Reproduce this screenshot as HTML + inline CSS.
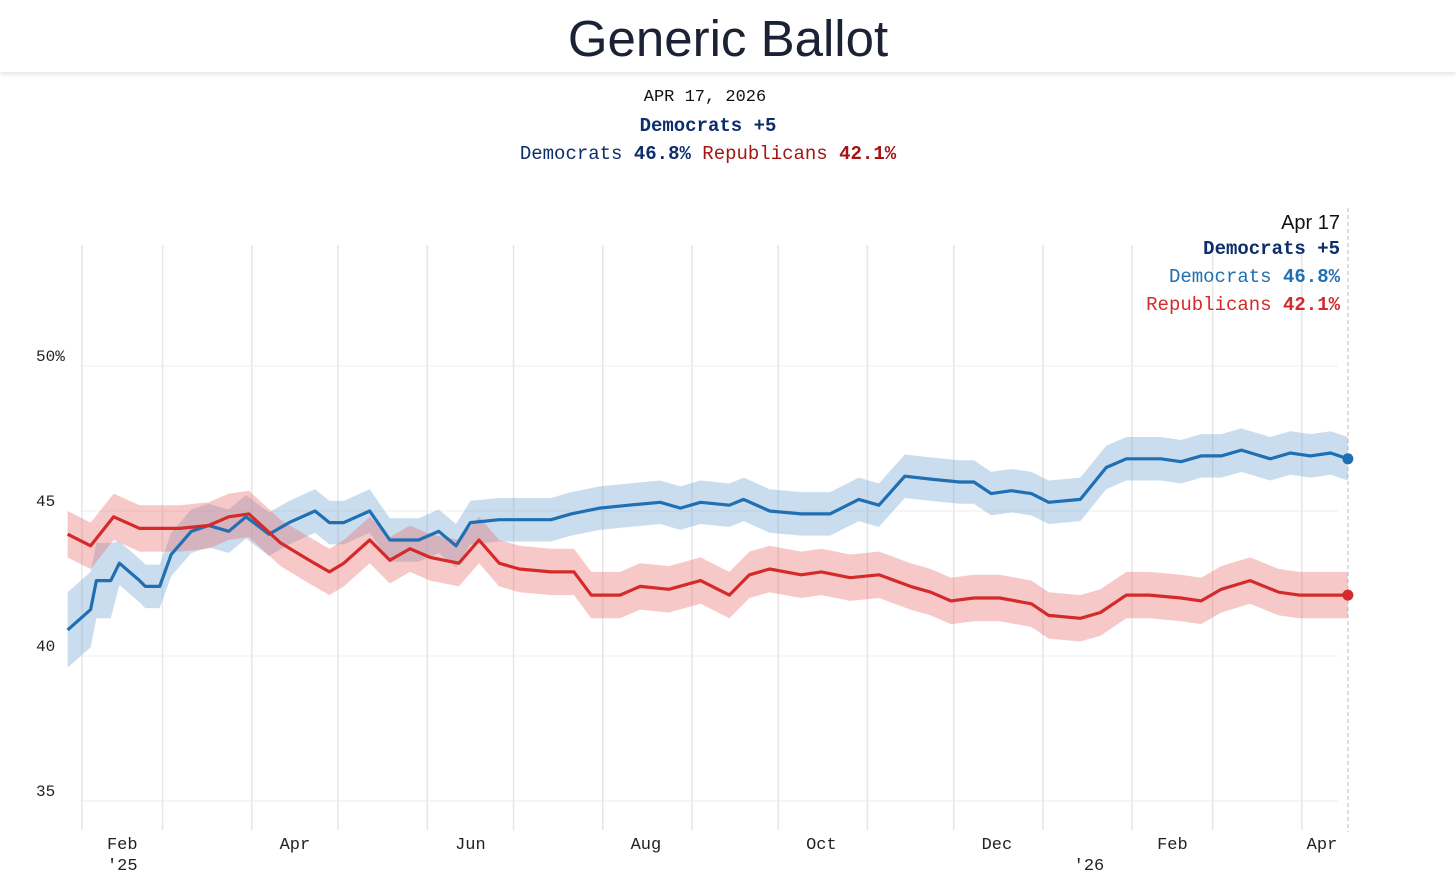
<!DOCTYPE html>
<html><head><meta charset="utf-8">
<style>
html,body{margin:0;padding:0;background:#fff;width:1456px;height:887px;overflow:hidden}
.hdr{position:absolute;left:0;top:0;width:1456px;height:72px;background:#fff;box-shadow:0 2px 5px rgba(0,0,0,0.12)}
.title{position:absolute;left:0;width:1456px;top:9px;text-align:center;font:51px "Liberation Sans",sans-serif;color:#1b2234}
</style></head><body>
<div class="hdr"><div class="title">Generic Ballot</div></div>
<svg id="c" width="1456" height="887" style="position:absolute;left:0;top:0"></svg>
<script>
const dates=[-5,3,5,10,13,20,22,27,31,38,44,51,57,65,72,81,86,91,100,107,114,117,124,130,135,145,152,163,170,180,190,201,208,215,225,230,239,250,260,270,277,286,295,305,310,316,323,330,336,347,356,363,375,382,389,396,403,413,420,427,434,440];
const dem=[40.9,41.6,42.6,42.6,43.2,42.6,42.4,42.4,43.5,44.3,44.5,44.3,44.8,44.2,44.6,45.0,44.6,44.6,45.0,44.0,44.0,44.0,44.3,43.8,44.6,44.7,44.7,44.7,44.9,45.1,45.2,45.3,45.1,45.3,45.2,45.4,45.0,44.9,44.9,45.4,45.2,46.2,46.1,46.0,46.0,45.6,45.7,45.6,45.3,45.4,46.5,46.8,46.8,46.7,46.9,46.9,47.1,46.8,47.0,46.9,47.0,46.8];
const repDates=[-5,3,11,20,27,34,44,51,58,69,79,86,91,100,107,114,121,131,138,145,152,163,171,177,187,194,204,215,225,232,239,250,257,267,277,288,295,302,310,319,330,336,347,354,363,371,382,389,396,406,416,423,434,440];
const rep=[44.2,43.8,44.8,44.4,44.4,44.4,44.5,44.8,44.9,43.9,43.3,42.9,43.2,44.0,43.3,43.7,43.4,43.2,44.0,43.2,43.0,42.9,42.9,42.1,42.1,42.4,42.3,42.6,42.1,42.8,43.0,42.8,42.9,42.7,42.8,42.4,42.2,41.9,42.0,42.0,41.8,41.4,41.3,41.5,42.1,42.1,42.0,41.9,42.3,42.6,42.2,42.1,42.1,42.1];
const yTicks=[50,45,40,35];
const yTickLabels=["50%","45","40","35"];
const xTickDays=[14,74,135,196,257,318,379,431];
const xTickLabels=["Feb","Apr","Jun","Aug","Oct","Dec","Feb","Apr"];
const monthDays=[0,28,59,89,120,150,181,212,242,273,303,334,365,393,424];
const X=d=>82+d*2.877, Y=v=>511-(v-45)*29;
const svg=document.getElementById('c');const NS='http://www.w3.org/2000/svg';
function mk(t,a,txt){const e=document.createElementNS(NS,t);for(const k in a)e.setAttribute(k,a[k]);if(txt!==undefined)e.textContent=txt;svg.appendChild(e);return e;}
monthDays.forEach(d=>{const e=mk('line',{x1:X(d),x2:X(d),y1:245,y2:830,stroke:'#e6e6e6','stroke-width':1.5});

});
const ed=mk('line',{x1:1348,x2:1348,y1:208,y2:832,stroke:'#bbb','stroke-dasharray':'4,3'});


yTicks.forEach((v,i)=>{const g=mk('line',{x1:80,x2:1338,y1:Y(v),y2:Y(v),stroke:'#ececec'});


const t=mk('text',{x:36,y:Y(v)-5,'font-family':'Liberation Mono,monospace','font-size':16,fill:'#222'},yTickLabels[i]);

});
xTickDays.forEach((d,i)=>{const t=mk('text',{x:X(d),y:849,'text-anchor':'middle','font-family':'Liberation Mono,monospace','font-size':17,fill:'#222'},xTickLabels[i]);

});
[["'25",X(14)],["'26",X(350)]].forEach(p=>{const t=mk('text',{x:p[1],y:870,'text-anchor':'middle','font-family':'Liberation Mono,monospace','font-size':17,fill:'#222'},p[0]);

});
function band(ds,vs,w0,w,fill,name){let up=ds.map((d,i)=>X(d)+','+Y(vs[i]+(i<4?w0:w)));let dn=ds.map((d,i)=>X(d)+','+Y(vs[i]-(i<4?w0:w))).reverse();
const p=mk('polygon',{points:up.concat(dn).join(' '),fill:fill});

}
function line(ds,vs,col,name){const p=mk('polyline',{points:ds.map((d,i)=>X(d)+','+Y(vs[i])).join(' '),fill:'none',stroke:col,'stroke-width':3.2,'stroke-linejoin':'round'});


const c=mk('circle',{cx:X(ds[ds.length-1]),cy:Y(vs[vs.length-1]),r:5.5,fill:col});

}
band(dates,dem,1.3,0.75,'rgba(120,170,215,0.4)','democrats-band');
band(repDates,rep,0.8,0.8,'rgba(235,110,110,0.38)','republicans-band');
line(dates,dem,'#1f6fb2','democrats-line');
line(repDates,rep,'#d42a2a','republicans-line');
function txt(x,y,anchor,parts,size,name){const t=mk('text',{x:x,y:y,'text-anchor':anchor,'font-family':'Liberation Mono,monospace','font-size':size});


parts.forEach(p=>{const s=document.createElementNS(NS,'tspan');s.setAttribute('fill',p[1]);if(p[2])s.setAttribute('font-weight','bold');s.textContent=p[0];t.appendChild(s);});}
txt(705,101,'middle',[["APR 17, 2026","#111"]],17,'header-date');
txt(708,131,'middle',[["Democrats +5","#0d2e6b",1]],19,'header-margin');
txt(708,159,'middle',[["Democrats ","#0d2e6b"],["46.8%","#0d2e6b",1],["  Republicans ","#a31515"],["42.1%","#a31515",1]],19,'header-values');
const d1=mk('text',{x:1340,y:229,'text-anchor':'end','font-family':'Liberation Sans,sans-serif','font-size':20,fill:'#111'},'Apr 17');


txt(1340,254,'end',[["Democrats +5","#0d2e6b",1]],19,'tooltip-margin');
txt(1340,282,'end',[["Democrats ","#1f6fb2"],["46.8%","#1f6fb2",1]],19,'tooltip-democrats');
txt(1340,310,'end',[["Republicans ","#d42a2a"],["42.1%","#d42a2a",1]],19,'tooltip-republicans');
</script>
</body></html>
